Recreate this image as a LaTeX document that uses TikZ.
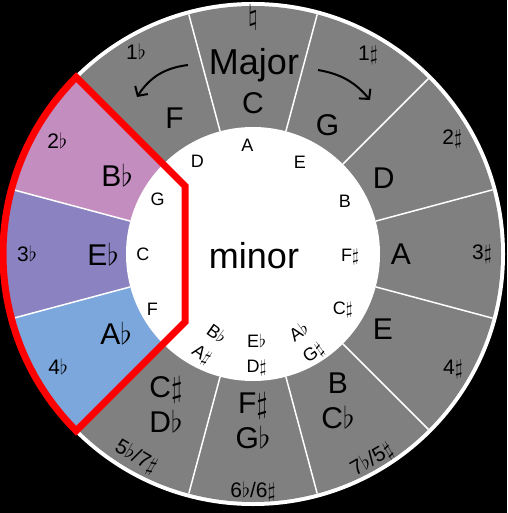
\RequirePackage{fix-cm}
\documentclass[tikz,border=0pt]{standalone}
\usepackage{fontspec}
\setmainfont{Liberation Sans}
\usepackage{tikz}
\usetikzlibrary{arrows.meta,positioning}
\definecolor{Slate}{HTML}{808080}
\definecolor{Orchid}{HTML}{C38DC0}
\definecolor{Iris}{HTML}{8B83C1}
\definecolor{Sky}{HTML}{7BA7DC}
\newcommand{\flt}{\ensuremath{\flat}}
\newcommand{\shp}{\ensuremath{\sharp}}
\newcommand{\ntr}{\ensuremath{\natural}}

\begin{document}
\begin{tikzpicture}[x=1pt,y=1pt]
    \tikzset{majorkey/.style={font=\fontsize{30}{35}\selectfont,align=center,inner sep=0pt},
      minorkey/.style={font=\fontsize{18}{25}\selectfont,align=center,inner sep=0pt},
      signature/.style={font=\fontsize{21}{24}\selectfont,inner sep=0pt},
      divider/.style={white,line width=1.5pt},
      title/.style={font=\fontsize{36}{40}\selectfont,inner sep=0pt},
      turn/.style={line width=2pt,-{Straight Barb[length=7pt,width=15pt]}}}
    \useasboundingbox (-253,-259) rectangle (254,254);
    \fill[black] (-253,-259) rectangle (254,254);

    % Wheel
    \fill[white] (0,0) circle (252);
    \fill[Slate] (0,0) circle (248);
    \foreach \a/\col in {135/Orchid,165/Iris,195/Sky}{
      \fill[\col] (0,0) -- (\a:248) arc[start angle=\a,end angle=\a+30,radius=248] -- cycle;
    }
    \fill[white] (0,0) circle (127);
    \foreach \a in {15,45,...,345}{
      \draw[divider] (\a:127) -- (\a:248);
    }

    % Major keys
    \foreach \a/\r/\txt [count=\k] in {90/151/C,60/149/G,30/151/D,0/148/A,-30/150/E,
        -60/170/{B\\C\flt},-90/167/{F\shp\\G\flt},-120/174/{C\shp\\D\flt},
        -150/158/A\flt,180/150/E\flt,150/157/B\flt,120/157/F}{
      \node[majorkey] (major\k) at (\a:\r) {\txt};
    }

    % minor keys
    \foreach \a/\r/\rot/\txt [count=\k] in {93/109/0/A,63/103/0/E,30/106/0/B,-2/97/0/F\shp,
        -32/106/0/C\shp,-59/104/35/{A\flt\\G\shp},-88/101/0/{E\flt\\D\shp},
        244/101/-35/{B\flt\\A\shp},209/115/0/F,180/110/0/C,150/110/0/G,121/108/0/D}{
      \node[minorkey,rotate=\rot] (minor\k) at (\a:\r) {\txt};
    }

    % Key signatures
    \foreach \a/\r/\rot/\txt [count=\k] in {60/230/0/1\shp,30/230/0/2\shp,
        0/229/0/3\shp,-30/231/0/4\shp,-60/238/30/{7\flt/5\shp},-90/238/0/{6\flt/6\shp},
        -120/234/-30/{5\flt/7\shp},-150/225/0/4\flt,180/226/0/3\flt,150/226/0/2\flt,
        120/234/0/1\flt}{
      \node[signature,rotate=\rot] (sig\k) at (\a:\r) {\txt};
    }
    \node[signature,font=\fontsize{28}{30}\selectfont] (natural) at (90:236) {\ntr};

    % Titles
    \node[title] (major) at (1,189) {Major};
    \node[title] (minor) at (1,-2) {minor};

    % Relative minors
    \draw[red,line width=7pt] (135:250) -- (-68,68) -- (-68,-68) -- (225:250)
      arc[start angle=225,end angle=135,radius=250] -- cycle;

    % Directions
    \coordinate (flatstart) at (-65,189);
    \coordinate (flatend) at (-116,157);
    \coordinate (sharpstart) at (65,184);
    \coordinate (sharpend) at (117,154);
    \draw[turn] (flatstart) to[bend right=25] (flatend);
    \draw[turn] (sharpstart) to[bend left=20] (sharpend);
  \end{tikzpicture}
\end{document}
